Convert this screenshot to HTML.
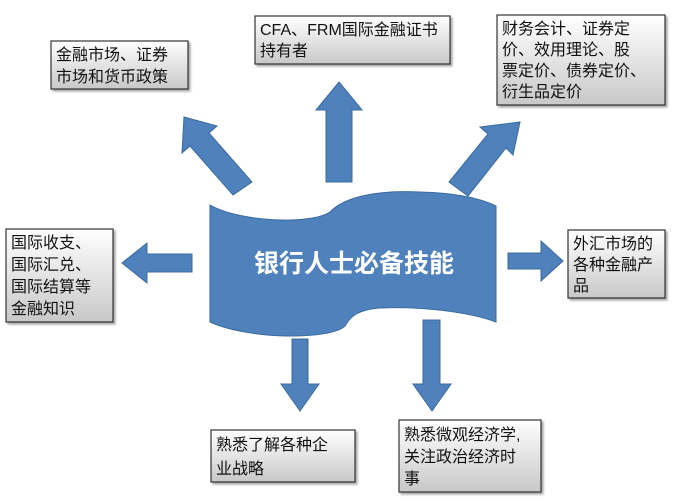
<!DOCTYPE html>
<html><head><meta charset="utf-8"><style>
html,body{margin:0;padding:0;background:#fff;}
svg{display:block;}
text{font-family:"Liberation Sans","Noto Sans CJK SC",sans-serif;font-size:16px;fill:#111;}
</style></head><body>
<svg width="687" height="502" viewBox="0 0 687 502" xmlns="http://www.w3.org/2000/svg">
<defs>
<linearGradient id="g" x1="0" y1="0" x2="0" y2="1">
<stop offset="0" stop-color="#ffffff"/><stop offset="1" stop-color="#c8c8c8"/>
</linearGradient>
</defs>
<g fill="#4f81bd" stroke="#3a6a9e" stroke-width="1">
<polygon points="339,82 362,110 352,110 352,182 326,182 326,110 316,110"/>
<polygon points="184,117 217,126 209,133 252,182 233,195 190,146 182,153"/>
<polygon points="520,122 513,155 506,148 468,196 449,182 488,134 480,127"/>
<polygon points="122,263 147,243 147,254 192,254 192,272 147,272 147,283"/>
<polygon points="563,261 541,241 541,253 508,253 508,269 541,269 541,281"/>
<polygon points="300,411 281,384 292,384 292,339 308,339 308,384 319,384"/>
<polygon points="432,411 413,384 423,384 423,320 440,320 440,384 451,384"/>
</g>
<path d="M210,205 C240,222 310,225 330,212 C345,196 380,190 420,192 C455,193 480,198 496,206 L496,322 C470,312 420,306 380,308 C355,310 350,318 345,326 C330,340 250,340 210,322 Z" fill="#4f81bd" stroke="#3a6a9e" stroke-width="1"/>
<text x="354" y="272" text-anchor="middle" style="font-size:25px;fill:#fff;font-weight:bold;">银行人士必备技能</text>
<g stroke="#333" stroke-width="1.2" fill="url(#g)" style="filter:drop-shadow(2px 2px 1px rgba(0,0,0,0.35))">
<rect x="51" y="41" width="137" height="48"/>
<rect x="255" y="16" width="195" height="48"/>
<rect x="497" y="15" width="168" height="90"/>
<rect x="6" y="229" width="107" height="93"/>
<rect x="568" y="230" width="97" height="68"/>
<rect x="211" y="430" width="144" height="52"/>
<rect x="399" y="420" width="142" height="72"/>
</g>
<text x="56" y="60">金融市场、证券</text>
<text x="56" y="82">市场和货币政策</text>
<text x="260" y="35">CFA、FRM国际金融证书</text>
<text x="260" y="56">持有者</text>
<text x="502" y="34">财务会计、证券定</text>
<text x="502" y="55">价、效用理论、股</text>
<text x="502" y="76">票定价、债券定价、</text>
<text x="502" y="97">衍生品定价</text>
<text x="11" y="248">国际收支、</text>
<text x="11" y="270">国际汇兑、</text>
<text x="11" y="292">国际结算等</text>
<text x="11" y="314">金融知识</text>
<text x="573" y="249">外汇市场的</text>
<text x="573" y="270">各种金融产</text>
<text x="573" y="291">品</text>
<text x="216" y="450">熟悉了解各种企</text>
<text x="216" y="474">业战略</text>
<text x="404" y="440">熟悉微观经济学,</text>
<text x="404" y="462">关注政治经济时</text>
<text x="404" y="484">事</text>
</svg>
</body></html>
